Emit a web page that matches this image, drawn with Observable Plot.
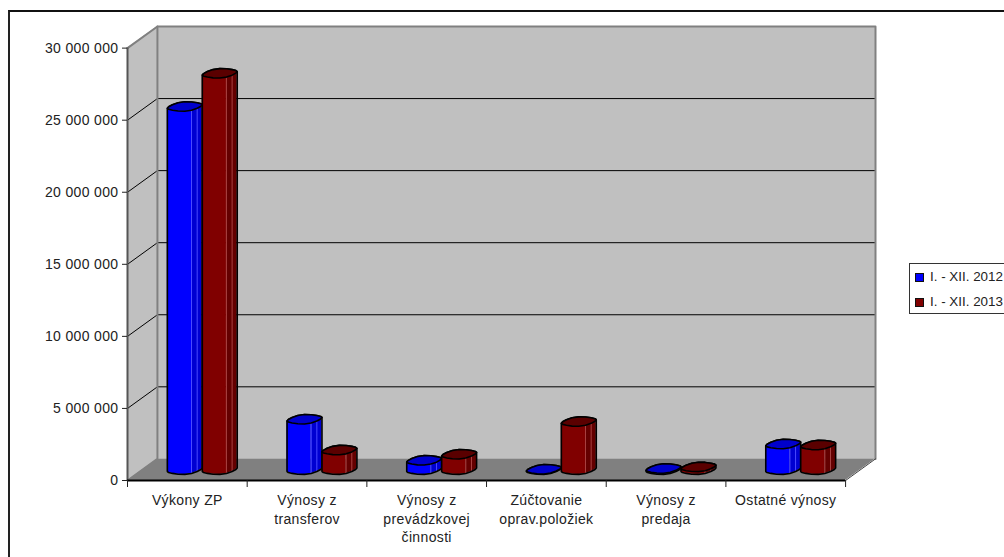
<!DOCTYPE html>
<html>
<head>
<meta charset="utf-8">
<script src="https://cdn.jsdelivr.net/npm/d3@7"></script>
<script src="https://cdn.jsdelivr.net/npm/@observablehq/plot@0.6"></script>
<style>
html,body{margin:0;padding:0;background:#fff;overflow:hidden}
#wrap{position:relative;width:1004px;height:557px;overflow:hidden;font-family:"Liberation Sans",Arial,sans-serif;color:#222}
#wrap svg{display:block}
#frame{position:absolute;left:8px;top:10px;width:1100px;height:700px;border-left:2px solid #222;border-top:2px solid #111}
#legend{position:absolute;left:909px;top:263px;width:120px;height:49px;border:1px solid #333;background:#fff;font-size:13.4px}
#legend .row{position:absolute;left:5px;white-space:nowrap;line-height:16px}
#legend i{display:inline-block;box-sizing:border-box;width:9px;height:9px;border:1px solid #111;margin-right:6px;vertical-align:-0.5px}
</style>
</head>
<body>
<div id="wrap">
<div id="frame"></div>
<div id="legend">
  <div class="row" style="top:5px"><i style="background:#0000ff"></i>I. - XII. 2012</div>
  <div class="row" style="top:30px"><i style="background:#800000"></i>I. - XII. 2013</div>
</div>
</div>
<script>
const categories = ["Výkony ZP","Výnosy z\ntransferov","Výnosy z\nprevádzkovej\nčinnosti","Zúčtovanie\noprav.položiek","Výnosy z\npredaja","Ostatné výnosy"];
const values2012 = [25200000,3500000,650000,30000,80000,1780000];
const values2013 = [27500000,1360000,1070000,3340000,190000,1710000];
const yTicks = [0,5000000,10000000,15000000,20000000,25000000,30000000];
const gridLevels = [5000000,10000000,15000000,20000000,25000000];

// depth of the oblique 3D box, in data units
const depthX = 0.25, depthY = 1500000, yMax = 30000000, nCat = 6;
// bar footprint, in data units
const ux = nCat/718, uy = yMax/433;
const A = 16.4*ux, B = 6*ux, C = 4.6*uy, phi = Math.atan2(B,A);
const barOffset = 0.146;
const n = 8;

const ring = (cx, cy, t) => ({x: cx + A*Math.cos(t) + B*Math.sin(t), y: cy + C*Math.sin(t) + 0.1*C*Math.cos(3*t)});
const half = (cx, cy, from) => d3.range(n+1).map(k => ring(cx, cy, from + k*Math.PI/n));

function barMarks(values, side, main, dark, light, cap) {
  const strips = [], rules = [], outlines = [], caps = [];
  values.forEach((v, i) => {
    const cx = i + 0.5 + depthX/2 + side*barOffset;
    const yBase = depthY/2, yTop = v + depthY/2;
    const base = half(cx, yBase, phi + Math.PI), top = half(cx, yTop, phi + Math.PI);
    base.forEach((p, k) => {
      if (k <= 5) strips.push({id:`${i}-a`, x:p.x, y1:p.y, y2:top[k].y, color:main});
      if (k >= 5) strips.push({id:`${i}-b`, x:p.x, y1:p.y, y2:top[k].y, color:dark});
      if (k === 5 || k === 6) rules.push({x:p.x, y1:p.y, y2:top[k].y});
    });
    const back = half(cx, yTop, phi);
    outlines.push(...base.map(p => ({...p, id:i})), ...back.map(p => ({...p, id:i})));
    caps.push(...d3.range(2*n).map(k => ({...ring(cx, yTop, phi + k*Math.PI/n), id:i})));
  });
  return [
    Plot.areaY(strips, {x:"x", y1:"y1", y2:"y2", z:"id", fill:"color", curve:"linear"}),
    Plot.ruleX(rules, {x:"x", y1:"y1", y2:"y2", stroke:light, strokeWidth:1}),
    Plot.line(outlines, {x:"x", y:"y", z:"id", curve:"linear-closed", stroke:"#000", strokeWidth:1.6}),
    Plot.line(caps, {x:"x", y:"y", z:"id", curve:"linear-closed", fill:cap, stroke:"#000", strokeWidth:1.6})
  ];
}

const locale = d3.formatLocale({thousands:"\u00a0", grouping:[3], decimal:","});
const fmt = locale.format(",");

const plot = Plot.plot({
  width:1004, height:557,
  marginLeft:127, marginRight:129, marginTop:26, marginBottom:77,
  x:{type:"linear", domain:[0,nCat+depthX]},
  y:{type:"linear", domain:[0,yMax+depthY]},
  color:{type:"identity"},
  style:{fontFamily:"'Liberation Sans',Arial,sans-serif", background:"transparent", color:"#222", letterSpacing:"0.35px"},
  marks:[
    // left wall, back wall, floor
    Plot.areaY([{x:0,y1:0,y2:yMax},{x:depthX,y1:depthY,y2:yMax+depthY}], {x:"x",y1:"y1",y2:"y2",fill:"#c0c0c0"}),
    Plot.areaY([{x:depthX},{x:nCat+depthX}], {x:"x",y1:()=>depthY,y2:()=>yMax+depthY,fill:"#c0c0c0"}),
    Plot.areaX([{y:0,x1:0,x2:nCat},{y:depthY,x1:depthX,x2:nCat+depthX}], {y:"y",x1:"x1",x2:"x2",fill:"#808080"}),
    // grid
    Plot.line(gridLevels.flatMap(v => [{x:0,y:v,z:v},{x:depthX,y:v+depthY,z:v},{x:nCat+depthX,y:v+depthY,z:v}]),
      {x:"x",y:"y",z:"z",stroke:"#000",strokeWidth:1}),
    // wall edges
    Plot.line([{x:0,y:yMax},{x:depthX,y:yMax+depthY},{x:nCat+depthX,y:yMax+depthY},{x:nCat+depthX,y:depthY}],
      {x:"x",y:"y",stroke:"#808080",strokeWidth:2}),
    Plot.line([{x:depthX,y:yMax+depthY},{x:depthX,y:depthY},{x:0,y:0}],
      {x:"x",y:"y",stroke:"#808080",strokeWidth:2}),
    Plot.line([{x:nCat,y:0},{x:nCat+depthX,y:depthY}], {x:"x",y:"y",stroke:"#444",strokeWidth:1}),
    // columns
    ...barMarks(values2012, -1, "#0000ff", "#0000d2", "#4a4aff", "#0000cc"),
    ...barMarks(values2013, 1, "#800000", "#640000", "#a84040", "#5a0000"),
    // axes
    Plot.ruleX([0], {y1:0, y2:yMax, stroke:"#555", strokeWidth:2}),
    Plot.ruleY([0], {x1:0, x2:nCat, stroke:"#000", strokeWidth:2}),
    Plot.axisY(yTicks, {anchor:"left", tickSize:5, tickPadding:4, fontSize:14, tickFormat:fmt, label:null, stroke:"#222"}),
    Plot.axisX(d3.range(nCat+1), {anchor:"bottom", tickSize:7, tickFormat:()=>"", label:null, stroke:"#222"}),
    Plot.text(categories, {x:(d,i)=>i+0.5, y:()=>0, text:d=>d, fontSize:14, lineHeight:1.34, lineAnchor:"top", dy:11, fill:"#222"})
  ]
});
document.getElementById("wrap").prepend(plot);
</script>
</body>
</html>
